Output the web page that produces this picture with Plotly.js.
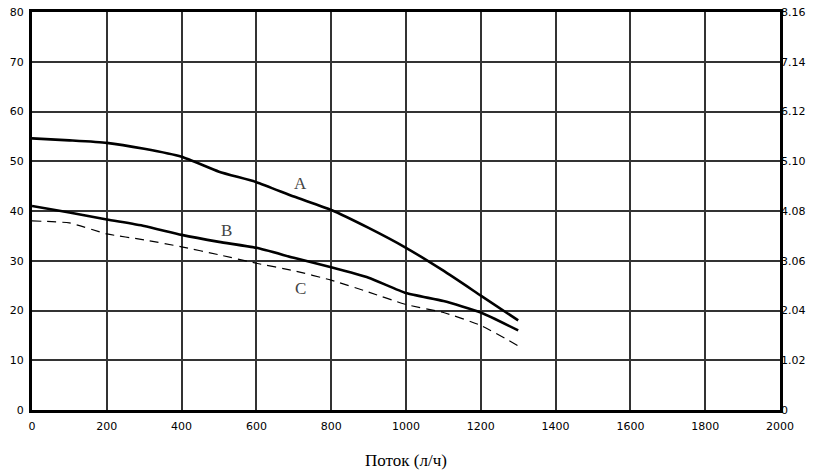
<!DOCTYPE html>
<html>
<head>
<meta charset="utf-8">
<script src="https://cdn.plot.ly/plotly-3.0.1.min.js"></script>
<style>html,body{margin:0;padding:0;background:#fff;}#chart{width:813px;height:474px;}</style>
</head>
<body>
<div id="chart"></div>
<script>
// Flow (l/h)
const flowA = [0, 100, 200, 300, 400, 500, 600, 700, 800, 900, 1000, 1100, 1200, 1300];
const headA = [54.6, 54.2, 53.7, 52.5, 50.9, 47.9, 45.8, 42.9, 40.2, 36.6, 32.6, 28.0, 23.0, 18.0];

const flowB = [0, 100, 200, 300, 400, 500, 600, 700, 800, 900, 1000, 1100, 1200, 1300];
const headB = [41.0, 39.7, 38.3, 37.0, 35.2, 33.8, 32.6, 30.6, 28.7, 26.6, 23.5, 21.9, 19.6, 16.0];

const flowC = [0, 100, 200, 300, 400, 500, 600, 700, 800, 900, 1000, 1100, 1200, 1300];
const headC = [38.0, 37.6, 35.4, 34.2, 32.8, 31.2, 29.5, 28.0, 26.1, 23.7, 21.2, 19.6, 17.0, 12.9];

const curveLabels = ['A', 'B', 'C'];
const labelX = [717, 519, 717];
const labelY = [45.5, 36.0, 24.5];

const xTicks = [0, 200, 400, 600, 800, 1000, 1200, 1400, 1600, 1800, 2000];
const yTicks = [0, 10, 20, 30, 40, 50, 60, 70, 80];
const y2Ticks = [0, 1.02, 2.04, 3.06, 4.08, 5.10, 6.12, 7.14, 8.16];
const y2TickText = ['0', '1.02', '2.04', '3.06', '4.08', '5.10', '6.12', '7.14', '8.16'];
const xTitle = 'Поток (л/ч)';

const tickFont = {family: 'DejaVu Sans', size: 11, color: '#000'};

const traces = [
  {x: flowA, y: headA, mode: 'lines', line: {color: '#000', width: 2.6, shape: 'spline', smoothing: 0.5}, hoverinfo: 'skip', showlegend: false},
  {x: flowB, y: headB, mode: 'lines', line: {color: '#000', width: 2.6, shape: 'spline', smoothing: 0.5}, hoverinfo: 'skip', showlegend: false},
  {x: flowC, y: headC, mode: 'lines', line: {color: '#000', width: 1.2, dash: '9px,6px', shape: 'spline', smoothing: 0.5}, hoverinfo: 'skip', showlegend: false},
  {x: [0, 0], y: [0, 8.16], yaxis: 'y2', mode: 'lines', line: {width: 0}, opacity: 0, hoverinfo: 'skip', showlegend: false}
];

const annotations = curveLabels.map((t, i) => ({
  x: labelX[i], y: labelY[i], xref: 'x', yref: 'y', text: t, showarrow: false,
  font: {family: 'Liberation Serif', size: 17, color: '#444'}
}));

const layout = {
  width: 813, height: 474,
  margin: {l: 32, r: 33, t: 12, b: 64},
  paper_bgcolor: '#fff', plot_bgcolor: '#fff',
  xaxis: {
    range: [0, 2000], tickvals: xTicks, ticktext: xTicks.map(String),
    showgrid: true, gridcolor: '#333', gridwidth: 2,
    showline: true, linecolor: '#000', linewidth: 3, mirror: true,
    zeroline: false, ticks: '', tickfont: tickFont, fixedrange: true,
    ticklabelstandoff: 4,
    title: {text: xTitle, font: {family: 'Liberation Serif', size: 17, color: '#000'}, standoff: 22}
  },
  yaxis: {
    range: [0, 80], tickvals: yTicks, ticktext: yTicks.map(String),
    showgrid: true, gridcolor: '#333', gridwidth: 2,
    showline: true, linecolor: '#000', linewidth: 3, mirror: true,
    zeroline: false, ticks: '', tickfont: tickFont, fixedrange: true,
    ticklabelstandoff: 3
  },
  yaxis2: {
    range: [0, 8.16], overlaying: 'y', side: 'right',
    tickvals: y2Ticks, ticktext: y2TickText,
    showgrid: false, showline: false, zeroline: false, ticks: '',
    tickfont: tickFont, fixedrange: true
  },
  annotations: annotations
};

Plotly.newPlot('chart', traces, layout, {staticPlot: true, displayModeBar: false});
</script>
</body>
</html>
